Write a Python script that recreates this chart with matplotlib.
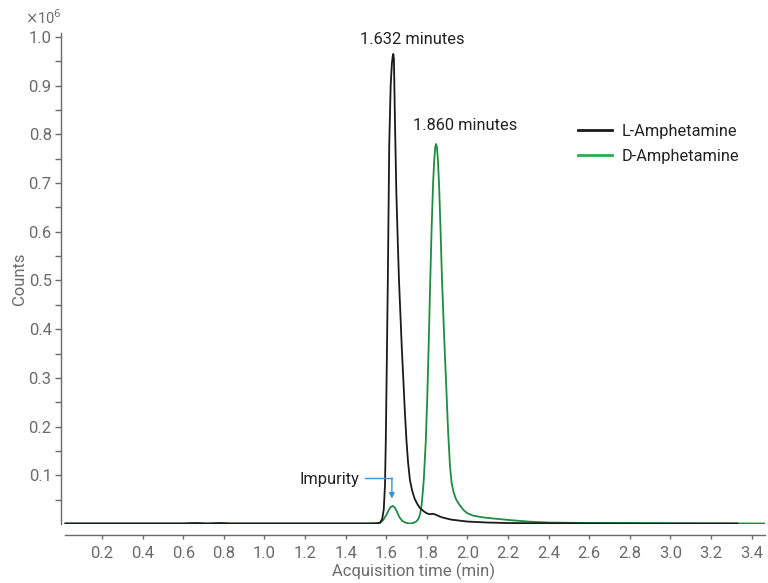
import matplotlib
matplotlib.use("Agg")
import matplotlib.pyplot as plt
from matplotlib.lines import Line2D
from matplotlib.ticker import FixedLocator

plt.rcParams['font.family'] = ['Roboto', 'DejaVu Sans']

# L-Amphetamine (black) trace: time (min), counts (x1e6)
l_time = [0.02, 0.40, 0.60, 0.66, 0.72, 0.78, 0.84, 1.00, 1.40, 1.55, 1.570, 1.580,
          1.588, 1.594, 1.598, 1.602, 1.608, 1.615, 1.622, 1.628, 1.632, 1.635, 1.638,
          1.643, 1.650, 1.657, 1.663, 1.670, 1.677, 1.684, 1.692, 1.700, 1.708, 1.717,
          1.728, 1.740, 1.752, 1.766, 1.785, 1.800, 1.815, 1.830, 1.845, 1.860, 1.880,
          1.920, 1.960, 2.000, 2.100, 2.200, 2.400, 2.800, 3.330]
l_counts = [0.001, 0.001, 0.001, 0.002, 0.001, 0.002, 0.001, 0.001, 0.001, 0.001, 0.003, 0.010,
            0.030, 0.080, 0.170, 0.300, 0.500, 0.780, 0.900, 0.945, 0.960, 0.965, 0.955,
            0.830, 0.680, 0.580, 0.500, 0.430, 0.360, 0.300, 0.230, 0.170, 0.125, 0.090,
            0.068, 0.052, 0.042, 0.033, 0.026, 0.022, 0.020, 0.021, 0.019, 0.016, 0.013,
            0.009, 0.007, 0.005, 0.003, 0.002, 0.0015, 0.001, 0.001]

# D-Amphetamine (green) trace: time (min), counts (x1e6)
d_time = [0.02, 1.50, 1.570, 1.585, 1.600, 1.612, 1.622, 1.632, 1.642, 1.652, 1.665,
          1.680, 1.700, 1.718, 1.733, 1.748, 1.758, 1.767, 1.775, 1.785, 1.795, 1.803,
          1.810, 1.817, 1.824, 1.831, 1.837, 1.842, 1.846, 1.850, 1.855, 1.861, 1.868,
          1.875, 1.885, 1.895, 1.905, 1.914, 1.922, 1.932, 1.945, 1.960, 1.980, 2.000,
          2.030, 2.070, 2.110, 2.160, 2.210, 2.300, 2.400, 2.600, 3.000, 3.466]
d_counts = [0.001, 0.001, 0.002, 0.008, 0.018, 0.028, 0.035, 0.037, 0.034, 0.026, 0.014,
            0.006, 0.002, 0.001, 0.002, 0.005, 0.010, 0.020, 0.040, 0.090, 0.170, 0.270,
            0.380, 0.500, 0.610, 0.700, 0.750, 0.775, 0.780, 0.774, 0.745, 0.690, 0.600,
            0.500, 0.390, 0.290, 0.190, 0.120, 0.085, 0.065, 0.050, 0.040, 0.029, 0.022,
            0.017, 0.014, 0.012, 0.010, 0.008, 0.005, 0.003, 0.002, 0.0015, 0.001]

peak_labels = ["1.632 minutes", "1.860 minutes"]
series_names = ["L-Amphetamine", "D-Amphetamine"]
x_ticks = [0.2, 0.4, 0.6, 0.8, 1.0, 1.2, 1.4, 1.6, 1.8, 2.0, 2.2, 2.4, 2.6, 2.8, 3.0, 3.2, 3.4]
y_ticks = [0.1, 0.2, 0.3, 0.4, 0.5, 0.6, 0.7, 0.8, 0.9, 1.0]
y_minor = [0.05, 0.15, 0.25, 0.35, 0.45, 0.55, 0.65, 0.75, 0.85, 0.95]

BLACK = "#1a1a1a"
GREEN = "#1e8c42"
LEG_GREEN = "#22b04b"
GRAY = "#6b6b6b"
BLUE = "#3d8fd6"
DARK = "#222222"

fig = plt.figure(figsize=(7.68, 5.83), dpi=100)
ax = fig.add_axes([61.4 / 768, 1 - 524 / 583, (765 - 61.4) / 768, (524 - 33) / 583])

ax.plot(d_time, d_counts, color=GREEN, lw=1.3, solid_joinstyle='round')
ax.plot(l_time, l_counts, color=BLACK, lw=1.3, solid_joinstyle='round')

ax.set_xlim(0, 3.466)
ax.set_ylim(0, 1.008)

for s in ['top', 'right']:
    ax.spines[s].set_visible(False)
for s in ['left', 'bottom']:
    ax.spines[s].set_color(GRAY)
    ax.spines[s].set_linewidth(1.0)
ax.spines['bottom'].set_position(('outward', 8))
ax.spines['bottom'].set_bounds(0.018, 3.466)

ax.xaxis.set_major_locator(FixedLocator(x_ticks))
ax.set_xticklabels([f"{v:.1f}" for v in x_ticks])
ax.yaxis.set_major_locator(FixedLocator(y_ticks))
ax.set_yticklabels([f"{v:.1f}" for v in y_ticks])
ax.yaxis.set_minor_locator(FixedLocator(y_minor))

ax.tick_params(axis='x', direction='out', length=3, width=1, color=GRAY,
               labelcolor=GRAY, labelsize=12, pad=5)
ax.tick_params(axis='y', which='major', direction='out', length=4, width=1, color=GRAY,
               labelcolor=GRAY, labelsize=12, pad=3)
ax.tick_params(axis='y', which='minor', direction='out', length=4, width=1, color=GRAY)

ax.set_xlabel("Acquisition time (min)", color=GRAY, fontsize=12, labelpad=1)
ax.set_ylabel("Counts", color=GRAY, fontsize=12, labelpad=1)
ax.text(-0.052, 1.012, r"$\times$10$^6$", transform=ax.transAxes, ha='left', va='bottom',
        color=GRAY, fontsize=10.5)

# peak labels
ax.text(1.728, 0.994, peak_labels[0], ha='center', va='center', color=DARK, fontsize=11.8)
ax.text(1.988, 0.819, peak_labels[1], ha='center', va='center', color=DARK, fontsize=11.8)

# impurity annotation
ax.annotate("", xy=(1.628, 0.052), xytext=(1.628, 0.094),
            arrowprops=dict(arrowstyle='-|>', color=BLUE, lw=1.0, mutation_scale=8,
                            shrinkA=0, shrinkB=0))
ax.plot([1.495, 1.628], [0.094, 0.094], color=BLUE, lw=1.0)
ax.text(1.318, 0.092, "Impurity", ha='center', va='center', color=DARK, fontsize=11.8)

handles = [Line2D([], [], color=BLACK, lw=2), Line2D([], [], color=LEG_GREEN, lw=2)]
ax.legend(handles, series_names, loc='upper left', bbox_to_anchor=(0.734, 0.815),
          frameon=False, fontsize=11.8, handlelength=2.1, handletextpad=0.6,
          labelspacing=0.6, borderpad=0, borderaxespad=0, labelcolor=DARK)

fig.savefig("out.png", dpi=100)
